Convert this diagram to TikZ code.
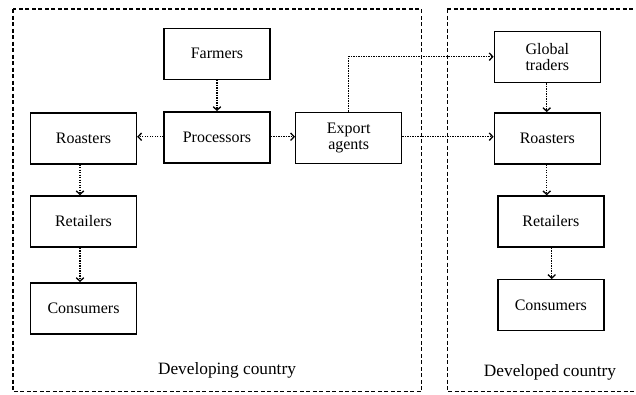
\documentclass[tikz,border=0pt]{standalone}
\usepackage{fontspec}
\setmainfont{Liberation Serif}
\usetikzlibrary{arrows.meta}
\begin{document}
\begin{tikzpicture}[x=1pt,y=-1pt,
  box/.style={draw,line width=1.4pt,minimum width=106pt,minimum height=51pt,inner sep=0pt,align=center,font=\fontsize{16}{16}\selectfont},
  region/.style={draw,line width=1.1pt,dash pattern=on 4pt off 2.5pt},
  flow/.style={line width=1.4pt,dash pattern=on 1.3pt off 1.2pt,-{Straight Barb[length=3.5pt,width=7.5pt,line width=1.3pt]}},
  lbl/.style={font=\fontsize{17.3}{19}\selectfont,inner sep=0pt}]
\useasboundingbox (0,0) rectangle (636,394);
\draw[region] (13,9) rectangle (421.7,391.7);
\draw[region] (447.3,9) -- (447.3,391.7) -- (637,391.7) (447.3,9) -- (637,9);
\node[box] (farm) at (217,53.7) {Farmers};
\node[box] (proc) at (217,137.3) {Processors};
\node[box] (roastL) at (83.5,138.3) {Roasters};
\node[box] (exp) at (348.7,137.8) {Export\\agents};
\node[box] (retL) at (83.5,221.5) {Retailers};
\node[box] (conL) at (83.5,308.3) {Consumers};
\node[box] (glob) at (547.3,57) {Global\\traders};
\node[box] (roastR) at (547.3,138.3) {Roasters};
\node[box] (retR) at (550.8,221.5) {Retailers};
\node[box] (conR) at (550.8,305.2) {Consumers};
\node[lbl] (devg) at (227,370.5) {Developing country};
\node[lbl] (devd) at (550,372.7) {Developed country};
\coordinate (c1) at (348.3,56.7);
\draw[flow] (farm) -- (proc);
\draw[flow] (proc.west |- 0,136.7) -- (roastL.east |- 0,136.7);
\draw[flow] (proc.east |- 0,136.7) -- (exp.west |- 0,136.7);
\draw[flow] (exp.east |- 0,136.7) -- (roastR.west |- 0,136.7);
\draw[flow] (exp.north -| c1) -- (c1) -- (glob.west |- c1);
\draw[flow] (glob.south -| 546.7,0) -- (roastR.north -| 546.7,0);
\draw[flow] (roastR.south -| 546.7,0) -- (retR.north -| 546.7,0);
\draw[flow] (retR.south -| 551.7,0) -- (conR.north -| 551.7,0);
\draw[flow] (roastL.south -| 80,0) -- (retL.north -| 80,0);
\draw[flow] (retL.south -| 80,0) -- (conL.north -| 80,0);
\end{tikzpicture}
\end{document}
